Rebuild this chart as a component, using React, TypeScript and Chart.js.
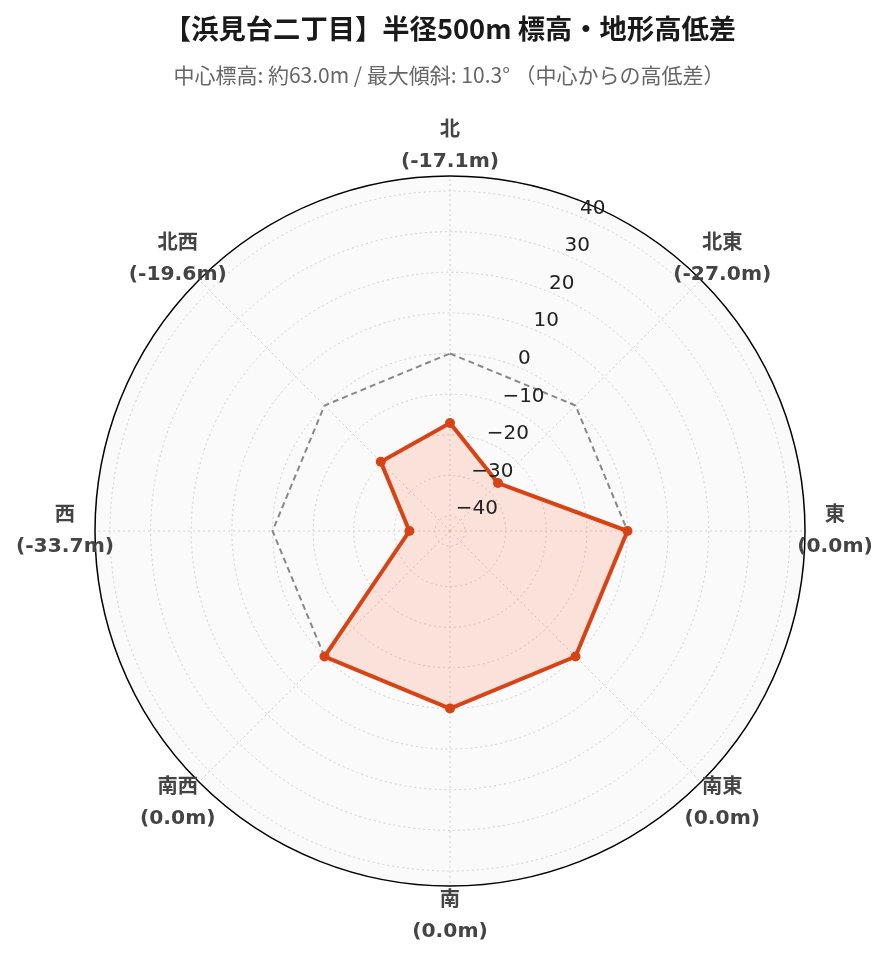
import React, { useEffect, useRef } from 'react';
import { Chart, registerables } from 'chart.js';

Chart.register(...registerables);

const directions = ['北', '北東', '東', '南東', '南', '南西', '西', '北西'];
const elevationDiff = [-17.1, -27.0, 0.0, 0.0, 0.0, 0.0, -33.7, -19.6];
const centerLevel = [0, 0, 0, 0, 0, 0, 0, 0];
const radialTicks = [-40, -30, -20, -10, 0, 10, 20, 30, 40];
const radialMin = -43.7;
const radialMax = 43.7;
const titleText = '【浜見台二丁目】半径500m 標高・地形高低差';
const subtitleText = '中心標高: 約63.0m / 最大傾斜: 10.3° （中心からの高低差）';

const isMax = (c: any) => c && c.tick && c.tick.value >= radialMax - 1e-6;
const isMin = (c: any) => c && c.tick && c.tick.value <= radialMin + 1e-6;

const overlayPlugin = {
  id: 'overlayText',
  afterDatasetsDraw(chart: any) {
    const scale = chart.scales.r;
    const ctx = chart.ctx;
    ctx.save();
    ctx.font = '20px "DejaVu Sans"';
    ctx.fillStyle = '#222222';
    ctx.textAlign = 'left';
    ctx.textBaseline = 'alphabetic';
    radialTicks.forEach((v) => {
      const p = scale.getPointPosition(0.5, scale.getDistanceFromCenterForValue(v));
      const label = v < 0 ? '\u2212' + Math.abs(v) : String(v);
      ctx.fillText(label, p.x, p.y - 3);
    });
    ctx.restore();
  },
  afterDraw(chart: any) {
    const scale = chart.scales.r;
    const ctx = chart.ctx;
    ctx.save();
    ctx.textAlign = 'center';
    ctx.textBaseline = 'middle';
    ctx.fillStyle = '#444444';
    ctx.font = 'bold 20.3px "DejaVu Sans", "Noto Sans CJK JP"';
    const dist = scale.drawingArea + 30;
    directions.forEach((d, i) => {
      const p = scale.getPointPosition(i, dist);
      ctx.fillText(d, p.x, p.y - 15.5);
      ctx.fillText('(' + elevationDiff[i].toFixed(1) + 'm)', p.x, p.y + 15.5);
    });
    ctx.fillStyle = '#1a1a1a';
    ctx.font = 'bold 27.3px "Noto Sans CJK JP"';
    ctx.fillText(titleText, 442, 21);
    ctx.fillStyle = '#666666';
    ctx.font = '21px "Noto Sans CJK JP"';
    ctx.fillText(subtitleText, 441, 67);
    ctx.restore();
  },
};

export default function App() {
  const canvasRef = useRef<HTMLCanvasElement | null>(null);

  useEffect(() => {
    if (!canvasRef.current) return;
    const chart = new Chart(canvasRef.current, {
      type: 'radar',
      data: {
        labels: directions,
        datasets: [
          {
            label: '高低差',
            data: elevationDiff,
            borderColor: '#D84315',
            backgroundColor: 'rgba(255,87,34,0.15)',
            borderWidth: 4,
            pointRadius: 5,
            pointBackgroundColor: '#D84315',
            pointBorderColor: '#D84315',
            pointBorderWidth: 0,
            fill: 'start',
            order: 0,
          },
          {
            label: '中心',
            data: centerLevel,
            borderColor: '#888888',
            borderDash: [6, 4],
            borderWidth: 2,
            pointRadius: 0,
            fill: false,
            order: 1,
          },
        ],
      },
      options: {
        responsive: false,
        animation: false,
        layout: { padding: { left: 87, right: 74, top: 168, bottom: 68 } },
        plugins: {
          legend: { display: false },
          tooltip: { enabled: false },
          title: { display: false },
        },
        scales: {
          r: {
            min: radialMin,
            max: radialMax,
            backgroundColor: '#fafafa',
            afterBuildTicks: (scale: any) => {
              scale.ticks = [radialMin, ...radialTicks, radialMax].map((v) => ({ value: v }));
            },
            ticks: { display: false, stepSize: 10 },
            pointLabels: { display: false },
            grid: {
              circular: true,
              color: (c: any) => (isMax(c) ? '#000000' : isMin(c) ? 'rgba(0,0,0,0)' : '#d0d0d0'),
              lineWidth: (c: any) => (isMax(c) ? 1.5 : 1),
            },
            border: {
              dash: (c: any) => (isMax(c) ? [] : [2, 3]),
            },
            angleLines: {
              color: '#d0d0d0',
              lineWidth: 1,
              borderDash: [2, 3],
            },
          },
        },
      } as any,
      plugins: [overlayPlugin],
    });
    return () => chart.destroy();
  }, []);

  return (
    <div style={{ width: 871, height: 946 }}>
      <canvas ref={canvasRef} width={871} height={946} style={{ display: 'block' }} />
    </div>
  );
}
